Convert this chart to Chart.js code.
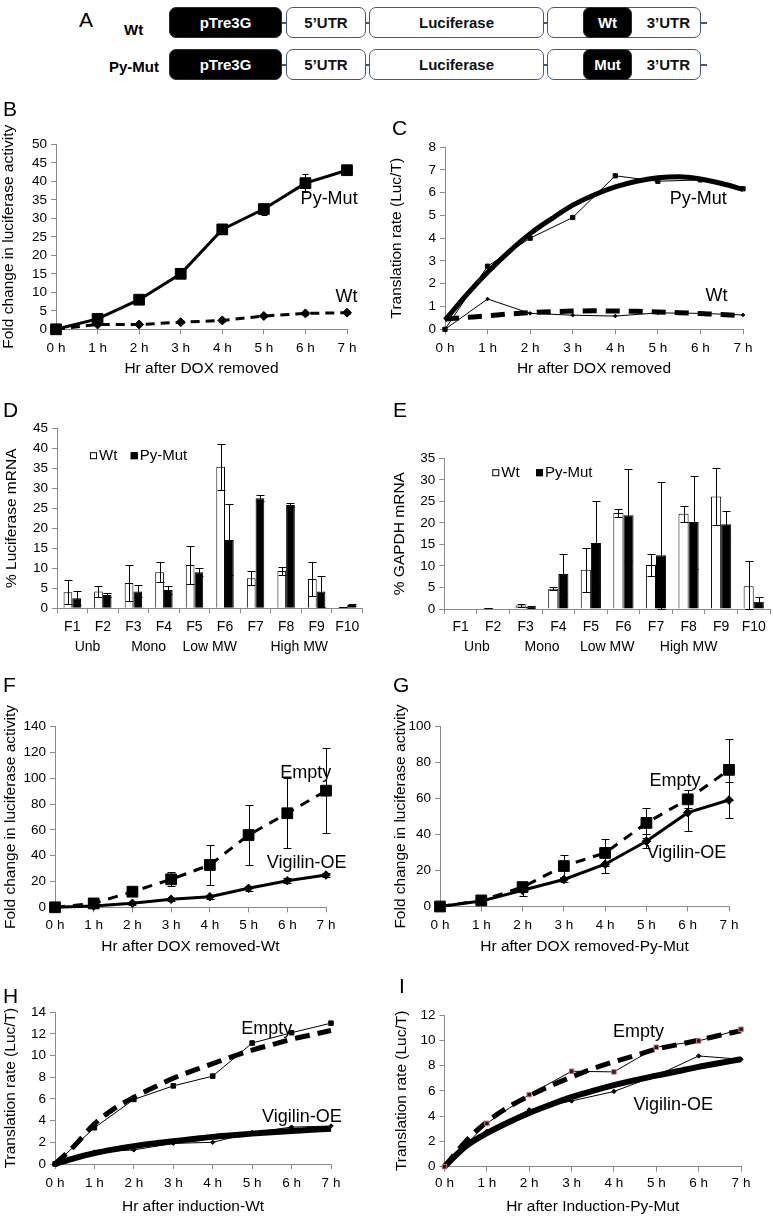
<!DOCTYPE html>
<html><head><meta charset="utf-8">
<script src="https://cdn.jsdelivr.net/npm/chart.js@4.4.1/dist/chart.umd.min.js"></script>
<style>
body{margin:0;background:#fff;width:773px;height:1217px;position:relative;overflow:hidden;font-family:'Liberation Sans',Arial,Helvetica,sans-serif;}
canvas{position:absolute;}
.lt{position:absolute;font-size:21px;line-height:21px;color:#000;z-index:5;}
.lab{position:absolute;font-size:15px;line-height:15px;color:#000;font-weight:bold;}
.row{position:absolute;height:31px;}
.box{position:absolute;top:0;height:31px;box-sizing:border-box;border:1.5px solid #3d5a7c;border-radius:7px;background:#fff;display:flex;align-items:center;justify-content:center;font-size:15px;font-weight:bold;color:#111;}
.blk{background:#000;color:#fff;border-color:#1c2c44;}
.conn{position:absolute;top:15px;height:1.5px;background:#3d5a7c;}
</style></head><body>

<!-- Panel A: construct diagram -->
<div class="lt" style="left:79px;top:9px">A</div>
<div class="lab" style="left:124px;top:22px">Wt</div>
<div class="lab" style="left:109px;top:59px">Py-Mut</div>
<div class="row" style="left:0;top:7px;width:773px">
  <div class="conn" style="left:282px;width:425px"></div>
  <div class="box blk" style="left:169px;width:113px">pTre3G</div>
  <div class="box" style="left:286px;width:80px">5’UTR</div>
  <div class="box" style="left:369px;width:175px">Luciferase</div>
  <div class="box" style="left:547px;width:154px;justify-content:flex-end;padding-right:10px">3’UTR</div>
  <div class="box blk" style="left:583px;width:49px">Wt</div>
</div>
<div class="row" style="left:0;top:49px;width:773px">
  <div class="conn" style="left:282px;width:425px"></div>
  <div class="box blk" style="left:169px;width:113px">pTre3G</div>
  <div class="box" style="left:286px;width:80px">5’UTR</div>
  <div class="box" style="left:369px;width:175px">Luciferase</div>
  <div class="box" style="left:547px;width:154px;justify-content:flex-end;padding-right:10px">3’UTR</div>
  <div class="box blk" style="left:583px;width:49px">Mut</div>
</div>

<div class="lt" style="left:3px;top:98px">B</div>
<div class="lt" style="left:392px;top:117px">C</div>
<div class="lt" style="left:3px;top:399px">D</div>
<div class="lt" style="left:393px;top:399px">E</div>
<div class="lt" style="left:3px;top:674px">F</div>
<div class="lt" style="left:393px;top:674px">G</div>
<div class="lt" style="left:3px;top:985px">H</div>
<div class="lt" style="left:399px;top:975px">I</div>

<script>
// ---------------- DATA ----------------
const hours = [0, 1, 2, 3, 4, 5, 6, 7];
const hourLabels = ['0 h', '1 h', '2 h', '3 h', '4 h', '5 h', '6 h', '7 h'];
const trendHours = [0, 0.5, 1, 1.5, 2, 2.5, 3, 3.5, 4, 4.5, 5, 5.5, 6, 6.5, 7];

// B: fold change in luciferase activity
const bPyMut    = [0, 2.8, 8.0, 15.0, 27.0, 32.5, 39.5, 43.0];
const bPyMutErr = [0, 0.3, 0.5, 0.5, 1.2, 1.5, 2.5, 0.8];
const bWt       = [0, 1.3, 1.3, 1.9, 2.4, 3.6, 4.3, 4.5];
const bWtErr    = [0, 0.2, 0.2, 0.2, 0.3, 0.3, 0.4, 0.3];

// C: translation rate
const cPyMut      = [0, 2.77, 4.0, 4.91, 6.74, 6.5, 6.56, 6.17];
const cWt         = [0, 1.33, 0.7, 0.62, 0.58, 0.72, 0.7, 0.63];
const cPyMutTrend = [0.4, 1.5, 2.5, 3.4, 4.2, 4.85, 5.45, 5.9, 6.25, 6.5, 6.65, 6.7, 6.6, 6.4, 6.15];
const cWtTrend    = [0.45, 0.52, 0.59, 0.67, 0.73, 0.77, 0.8, 0.81, 0.8, 0.79, 0.76, 0.73, 0.69, 0.65, 0.6];

// D / E: polysome fractions
const fractions   = ['F1', 'F2', 'F3', 'F4', 'F5', 'F6', 'F7', 'F8', 'F9', 'F10'];
const groupNames  = ['Unb', 'Mono', 'Low MW', 'High MW'];
const seriesNames = ['Wt', 'Py-Mut'];
const dWt    = [4.0, 4.2, 6.3, 9.0, 10.8, 35.4, 7.5, 9.3, 7.3, 0.3];
const dWtErr = [3.0, 1.4, 4.6, 2.5, 4.7, 5.8, 1.7, 1.1, 4.3, 0.1];
const dPy    = [2.5, 3.3, 4.2, 4.6, 9.0, 17.1, 27.5, 25.8, 4.2, 0.8];
const dPyErr = [1.7, 0.5, 1.5, 1.0, 1.0, 8.9, 0.7, 0.5, 3.8, 0.2];
const eWt    = [0, 0.2, 0.8, 4.7, 9.1, 22.3, 10.2, 22.1, 26.1, 5.3];
const eWtErr = [0, 0.05, 0.3, 0.3, 5.1, 1.0, 2.5, 1.9, 6.7, 5.9];
const ePy    = [0, 0, 0.5, 8.1, 15.3, 21.8, 12.5, 20.2, 19.7, 1.7];
const ePyErr = [0, 0, 0.3, 4.7, 9.7, 10.7, 17.1, 10.8, 3.1, 1.0];

// F / G: Empty vs Vigilin-OE
const fEmpty    = [0, 3.0, 12.1, 21.7, 32.8, 56.0, 72.9, 90.4];
const fEmptyErr = [0, 1.5, 1.5, 5.5, 15.5, 23.5, 27.0, 33.0];
const fVig      = [0, 1.0, 3.1, 6.2, 8.2, 14.7, 20.6, 25.0];
const fVigErr   = [0, 0.5, 1.0, 1.0, 1.5, 2.0, 2.0, 1.5];
const gEmpty    = [0, 3.4, 10.8, 22.5, 29.8, 46.5, 59.6, 76.0];
const gEmptyErr = [0, 1.0, 2.0, 6.0, 7.5, 8.5, 5.0, 17.0];
const gVig      = [0, 3.0, 9.0, 15.0, 23.5, 36.3, 52.2, 59.2];
const gVigErr   = [0, 1.0, 3.0, 1.5, 5.0, 4.0, 10.0, 10.0];

// H / I: translation rate Empty vs Vigilin-OE
const hEmpty      = [0, 3.34, 5.95, 7.2, 8.1, 11.15, 12.1, 12.98];
const hVig        = [0, 1.1, 1.3, 1.9, 2.0, 2.9, 3.4, 3.5];
const hEmptyTrend = [0, 1.7, 3.7, 5.1, 6.15, 7.05, 7.9, 8.6, 9.25, 9.9, 10.5, 11.0, 11.5, 11.9, 12.3];
const hVigTrend   = [0, 0.55, 1.0, 1.35, 1.65, 1.9, 2.1, 2.3, 2.5, 2.65, 2.8, 2.92, 3.05, 3.15, 3.25];
const iEmpty      = [0, 3.43, 5.7, 7.55, 7.5, 9.45, 9.95, 10.87];
const iVig        = [0, 2.8, 4.5, 5.2, 5.95, 7.2, 8.76, 8.5];
const iEmptyTrend = [0, 2.0, 3.55, 4.7, 5.6, 6.4, 7.1, 7.75, 8.3, 8.8, 9.3, 9.65, 10.0, 10.4, 10.75];
const iVigTrend   = [0, 1.6, 2.65, 3.5, 4.25, 4.9, 5.5, 6.0, 6.45, 6.85, 7.2, 7.55, 7.9, 8.2, 8.5];

// ---------------- SETUP ----------------
Chart.defaults.font.family = "'Liberation Sans', Arial, Helvetica, sans-serif";
Chart.defaults.color = '#000';
Chart.defaults.animation = false;
Chart.defaults.responsive = false;
Chart.defaults.maintainAspectRatio = false;
Chart.defaults.devicePixelRatio = 1;
Chart.defaults.plugins.legend.display = false;
Chart.defaults.plugins.tooltip.enabled = false;

const AX = '#8a8a8a';
const TICK = 13.5, TITLE = 15.5, CAT = 14;
const FAM = "'Liberation Sans', Arial, sans-serif";
const gridOpt = { display: true, drawOnChartArea: false, drawTicks: true, tickLength: 5, color: AX, lineWidth: 1 };
const borderOpt = { display: true, color: AX, width: 1 };

function pts(xs, ys) { return xs.map((x, i) => ({ x: x, y: ys[i] })); }

function makeCanvas(g) {
  const c = document.createElement('canvas');
  c.width = g.cw; c.height = g.ch;
  c.style.left = g.cl + 'px'; c.style.top = g.ct + 'px';
  c.style.width = g.cw + 'px'; c.style.height = g.ch + 'px';
  document.body.appendChild(c);
  return c;
}

function errorBarPlugin(cap) {
  return {
    id: 'errbars',
    afterDatasetsDraw(chart) {
      const ctx = chart.ctx, ys = chart.scales.y;
      chart.data.datasets.forEach((ds, i) => {
        if (!ds.errors) return;
        const meta = chart.getDatasetMeta(i);
        ctx.save();
        ctx.strokeStyle = '#000'; ctx.lineWidth = 1;
        meta.data.forEach((el, j) => {
          const e = ds.errors[j]; if (!e) return;
          const raw = ds.data[j]; const v = (typeof raw === 'object') ? raw.y : raw;
          const top = Math.round(ys.getPixelForValue(v + e)) + 0.5;
          const bot = Math.round(ys.getPixelForValue(Math.max(v - e, 0))) + 0.5;
          const x = Math.round(el.x) + 0.5, c = cap / 2;
          ctx.beginPath();
          ctx.moveTo(x, top); ctx.lineTo(x, bot);
          ctx.moveTo(x - c, top); ctx.lineTo(x + c, top);
          ctx.moveTo(x - c, bot); ctx.lineTo(x + c, bot);
          ctx.stroke();
        });
        ctx.restore();
      });
    }
  };
}

function yTitlePlugin(text, x) {
  return {
    id: 'ytitle',
    afterDraw(chart) {
      const ctx = chart.ctx, a = chart.chartArea;
      ctx.save();
      ctx.translate(x, (a.top + a.bottom) / 2);
      ctx.rotate(-Math.PI / 2);
      ctx.font = TITLE + 'px ' + FAM;
      ctx.fillStyle = '#000'; ctx.textAlign = 'center'; ctx.textBaseline = 'middle';
      ctx.fillText(text, 0, 0);
      ctx.restore();
    }
  };
}

function notesPlugin(items) {
  return {
    id: 'notes',
    afterDraw(chart) {
      const ctx = chart.ctx;
      ctx.save();
      ctx.font = '18px ' + FAM;
      ctx.fillStyle = '#000'; ctx.textAlign = 'center'; ctx.textBaseline = 'middle';
      items.forEach(n => ctx.fillText(n.text, chart.scales.x.getPixelForValue(n.x), chart.scales.y.getPixelForValue(n.y)));
      ctx.restore();
    }
  };
}

function groupPlugin(at, gap) {
  return {
    id: 'groups',
    afterDraw(chart) {
      const ctx = chart.ctx, xs = chart.scales.x;
      ctx.save();
      ctx.font = CAT + 'px ' + FAM;
      ctx.fillStyle = '#000'; ctx.textAlign = 'center'; ctx.textBaseline = 'middle';
      groupNames.forEach((name, k) => ctx.fillText(name, xs.getPixelForValue(at[k]), chart.chartArea.bottom + gap));
      ctx.restore();
    }
  };
}

function legendPlugin(lg) {
  return {
    id: 'inlegend',
    afterDraw(chart) {
      const ctx = chart.ctx, a = chart.chartArea;
      let x = a.left + lg.dx; const cy = a.top + lg.dy;
      ctx.save();
      ctx.font = '15px ' + FAM;
      ctx.textBaseline = 'middle'; ctx.textAlign = 'left';
      chart.data.datasets.forEach(ds => {
        ctx.fillStyle = ds.backgroundColor; ctx.strokeStyle = '#000'; ctx.lineWidth = 1;
        ctx.fillRect(x, cy - 3.5, 7, 7);
        ctx.strokeRect(x + 0.5, cy - 3, 6, 6);
        ctx.fillStyle = '#000';
        ctx.fillText(ds.label, x + 9, cy);
        x += 9 + ctx.measureText(ds.label).width + lg.gap;
      });
      ctx.restore();
    }
  };
}

function geometry(g) {
  return {
    Wy: g.L - g.cl, Hx: g.ct + g.ch - g.B, tx: g.titleX - g.cl,
    padding: { left: 0, top: g.T - g.ct, right: g.cl + g.cw - g.R, bottom: 0 }
  };
}

function lineChart(g, o) {
  const cv = makeCanvas(g), G = geometry(g);
  return new Chart(cv, {
    type: 'line',
    data: { datasets: o.datasets },
    options: {
      layout: { autoPadding: false, padding: G.padding },
      scales: {
        x: {
          type: 'linear', min: 0, max: 7,
          afterFit: s => { s.height = G.Hx; },
          ticks: { stepSize: 1, autoSkip: false, maxRotation: 0, padding: g.xGap - 5 - TICK * 0.6,
                   font: { size: TICK }, callback: v => hourLabels[Math.round(v)] },
          grid: gridOpt, border: borderOpt,
          title: { display: true, text: o.xTitle, padding: 0, font: { size: TITLE } }
        },
        y: {
          min: 0, max: o.yMax,
          afterFit: s => { s.width = G.Wy; },
          ticks: { stepSize: o.yStep, autoSkip: false, padding: 4, font: { size: TICK } },
          grid: gridOpt, border: borderOpt
        }
      }
    },
    plugins: [errorBarPlugin(o.cap || 8), notesPlugin(o.notes), yTitlePlugin(o.yTitle, G.tx)]
  });
}

function barChart(g, o) {
  const cv = makeCanvas(g), G = geometry(g);
  return new Chart(cv, {
    type: 'bar',
    data: {
      labels: fractions,
      datasets: [
        { label: seriesNames[0], data: o.wt, errors: o.wtErr, backgroundColor: '#ffffff', borderColor: '#000', borderWidth: 1,
          categoryPercentage: o.cp, barPercentage: 1 },
        { label: seriesNames[1], data: o.py, errors: o.pyErr, backgroundColor: '#000000', borderColor: '#000', borderWidth: 1,
          categoryPercentage: o.cp, barPercentage: 1 }
      ]
    },
    options: {
      layout: { autoPadding: false, padding: G.padding },
      scales: {
        x: {
          afterFit: s => { s.height = G.Hx; },
          ticks: { autoSkip: false, maxRotation: 0, padding: g.xGap - 5 - CAT * 0.6, font: { size: CAT } },
          grid: Object.assign({}, gridOpt, { offset: true }), border: borderOpt
        },
        y: {
          min: 0, max: o.yMax,
          afterFit: s => { s.width = G.Wy; },
          ticks: { stepSize: 5, autoSkip: false, padding: 4, font: { size: TICK } },
          grid: gridOpt, border: borderOpt
        }
      }
    },
    plugins: [errorBarPlugin(8), groupPlugin(o.groupAt, o.groupGap), legendPlugin(o.legend), yTitlePlugin(o.yTitle, G.tx)]
  });
}

// styles
const thickSq  = (d, err, dash, r) => ({ data: pts(hours, d), errors: err, borderColor: '#000', backgroundColor: '#000', borderWidth: 3,
  borderDash: dash || [], pointStyle: 'rect', pointRadius: r || 7.6, pointBorderWidth: 1, pointBackgroundColor: '#000', pointBorderColor: '#000', tension: 0, clip: false });
const thickDi  = (d, err, dash, r) => ({ data: pts(hours, d), errors: err, borderColor: '#000', backgroundColor: '#000', borderWidth: 3,
  borderDash: dash || [], pointStyle: 'rectRot', pointRadius: r || 4.5, pointBorderWidth: 1, pointBackgroundColor: '#000', pointBorderColor: '#000', tension: 0, clip: false });
const thinSq   = (d, r, fill, edge) => ({ data: pts(hours, d), borderColor: '#000', borderWidth: 1, pointStyle: 'rect', pointRadius: r || 3.2,
  pointBorderWidth: 1, pointBackgroundColor: fill || '#000', pointBorderColor: edge || '#000', tension: 0, clip: false });
const thinDi   = (d, r) => ({ data: pts(hours, d), borderColor: '#000', borderWidth: 1, pointStyle: 'rectRot', pointRadius: r || 2.2,
  pointBorderWidth: 1, pointBackgroundColor: '#000', pointBorderColor: '#000', tension: 0, clip: false });
const trend    = (d, w, dash) => ({ data: pts(trendHours, d), borderColor: '#000', borderWidth: w, borderDash: dash || [],
  pointRadius: 0, cubicInterpolationMode: 'monotone', clip: false, borderCapStyle: 'butt' });

// ---------------- PANELS ----------------
// B
lineChart({ cl: 0, ct: 100, cw: 385, ch: 278, L: 56, T: 144.3, R: 347, B: 329.3, titleX: 9, xGap: 19 }, {
  xTitle: 'Hr after DOX removed', yTitle: 'Fold change in luciferase activity', yMax: 50, yStep: 5, cap: 6,
  datasets: [ thickSq(bPyMut, bPyMutErr, [], 7.6), thickDi(bWt, bWtErr, [9, 6], 4.5) ],
  notes: [ { text: 'Py-Mut', x: 6.57, y: 35.1 }, { text: 'Wt', x: 6.99, y: 8.8 } ]
});

// C
lineChart({ cl: 385, ct: 135, cw: 388, ch: 243, L: 445, T: 144.3, R: 743, B: 329.3, titleX: 396.7, xGap: 19 }, {
  xTitle: 'Hr after DOX removed', yTitle: 'Translation rate (Luc/T)', yMax: 8, yStep: 1,
  datasets: [ trend(cPyMutTrend, 5, []), trend(cWtTrend, 5, [14, 9]), thinSq(cPyMut, 3), thinDi(cWt, 1.8) ],
  notes: [ { text: 'Py-Mut', x: 5.95, y: 5.71 }, { text: 'Wt', x: 6.38, y: 1.48 } ]
});

// D
barChart({ cl: 0, ct: 415, cw: 385, ch: 245, L: 57, T: 428.3, R: 362.5, B: 608.3, titleX: 12, xGap: 18.4 }, {
  yTitle: '% Luciferase mRNA', yMax: 45, wt: dWt, wtErr: dWtErr, py: dPy, pyErr: dPyErr, cp: 0.57,
  groupAt: [0.5, 2.5, 4.5, 7.43], groupGap: 38.4, legend: { dx: 33, dy: 27.4, gap: 13.4 }
});

// E
barChart({ cl: 385, ct: 440, cw: 388, ch: 220, L: 444.3, T: 458.3, R: 770, B: 609, titleX: 400, xGap: 17.7 }, {
  yTitle: '% GAPDH mRNA', yMax: 35, wt: eWt, wtErr: eWtErr, py: ePy, pyErr: ePyErr, cp: 0.62,
  groupAt: [0.5, 2.5, 4.5, 7.0], groupGap: 37.7, legend: { dx: 48, dy: 14.4, gap: 16.4 }
});

// F
lineChart({ cl: 0, ct: 665, cw: 385, ch: 291, L: 55, T: 726.7, R: 326, B: 907.3, titleX: 11, xGap: 18.4 }, {
  xTitle: 'Hr after DOX removed-Wt', yTitle: 'Fold change in luciferase activity', yMax: 140, yStep: 20, cap: 8,
  datasets: [ thickSq(fEmpty, fEmptyErr, [10, 8], 7.6), thickDi(fVig, fVigErr, [], 4.3) ],
  notes: [ { text: 'Empty', x: 6.48, y: 103.9 }, { text: 'Vigilin-OE', x: 6.5, y: 34.1 } ]
});

// G
lineChart({ cl: 385, ct: 665, cw: 388, ch: 291, L: 440, T: 726.7, R: 729, B: 906.5, titleX: 400.8, xGap: 19.2 }, {
  xTitle: 'Hr after DOX removed-Py-Mut', yTitle: 'Fold change in luciferase activity', yMax: 100, yStep: 20, cap: 8,
  datasets: [ thickSq(gEmpty, gEmptyErr, [10, 8], 7.6), thickDi(gVig, gVigErr, [], 4.3) ],
  notes: [ { text: 'Empty', x: 5.69, y: 70 }, { text: 'Vigilin-OE', x: 5.97, y: 29.6 } ]
});

// H
lineChart({ cl: 0, ct: 1000, cw: 385, ch: 216, L: 55, T: 1011.7, R: 331, B: 1164, titleX: 11, xGap: 19.3 }, {
  xTitle: 'Hr after induction-Wt', yTitle: 'Translation rate (Luc/T)', yMax: 14, yStep: 2,
  datasets: [ thinSq(hEmpty, 3.2), thinDi(hVig, 2.2), trend(hEmptyTrend, 5, [15, 8]), trend(hVigTrend, 6, []) ],
  notes: [ { text: 'Empty', x: 5.37, y: 12.47 }, { text: 'Vigilin-OE', x: 6.26, y: 4.35 } ]
});

// I
lineChart({ cl: 385, ct: 1000, cw: 388, ch: 216, L: 444.5, T: 1015, R: 741, B: 1166.7, titleX: 401.7, xGap: 16.6 }, {
  xTitle: 'Hr after Induction-Py-Mut', yTitle: 'Translation rate (Luc/T)', yMax: 12, yStep: 2,
  datasets: [ thinSq(iEmpty, 3.2, '#3a1414', '#c87a7a'), thinDi(iVig, 2.2), trend(iEmptyTrend, 5, [15, 8]), trend(iVigTrend, 6, []) ],
  notes: [ { text: 'Empty', x: 4.58, y: 10.68 }, { text: 'Vigilin-OE', x: 5.40, y: 4.88 } ]
});
</script>
</body></html>
